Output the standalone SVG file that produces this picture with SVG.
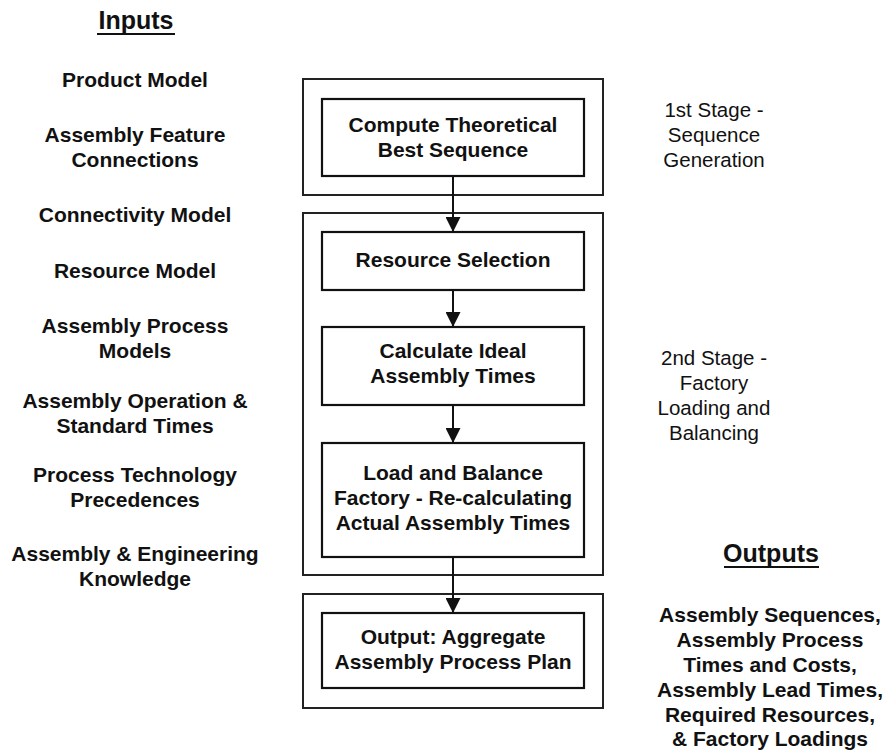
<svg xmlns="http://www.w3.org/2000/svg" width="883" height="751" viewBox="0 0 883 751">
<style>
  text { font-family: "Liberation Sans", Arial, sans-serif; fill: #111; text-anchor: middle; }
  .b { font-weight: bold; font-size: 21px; }
  .r { font-size: 20.5px; }
  .h { font-weight: bold; font-size: 25px; }
  .outer { fill: none; stroke: #222; stroke-width: 2; }
  .inner { fill: #fff; stroke: #111; stroke-width: 2.2; }
  .conn { stroke: #111; stroke-width: 2; fill: none; }
  .ul { stroke: #111; stroke-width: 2; }
</style>
<defs>
  <marker id="arr" markerUnits="userSpaceOnUse" markerWidth="15" markerHeight="15" refX="15" refY="7.5" orient="auto">
    <path d="M0,0 L15,7.5 L0,15 z" fill="#111"/>
  </marker>
</defs>
<rect width="883" height="751" fill="#fff"/>

<g id="inputs">
  <text class="h" x="136" y="29">Inputs</text>
  <line class="ul" x1="97" y1="34" x2="175" y2="34"/>
  <text class="b" x="135" y="87">Product Model</text>
  <text class="b" x="135" y="142">Assembly Feature</text>
  <text class="b" x="135" y="167">Connections</text>
  <text class="b" x="135" y="222">Connectivity Model</text>
  <text class="b" x="135" y="278">Resource Model</text>
  <text class="b" x="135" y="333">Assembly Process</text>
  <text class="b" x="135" y="358">Models</text>
  <text class="b" x="135" y="408">Assembly Operation &amp;</text>
  <text class="b" x="135" y="433">Standard Times</text>
  <text class="b" x="135" y="482">Process Technology</text>
  <text class="b" x="135" y="507">Precedences</text>
  <text class="b" x="135" y="561">Assembly &amp; Engineering</text>
  <text class="b" x="135" y="586">Knowledge</text>
</g>

<g id="stage1">
  <rect class="outer" x="303" y="79" width="300" height="116"/>
</g>
<g id="stage2">
  <rect class="outer" x="303" y="213" width="300" height="362"/>
</g>
<g id="stage3">
  <rect class="outer" x="303" y="594" width="300" height="114"/>
</g>

<g id="compute">
  <rect class="inner" x="322" y="99" width="262" height="77"/>
  <text class="b" x="453" y="132">Compute Theoretical</text>
  <text class="b" x="453" y="157">Best Sequence</text>
</g>
<g id="resource">
  <rect class="inner" x="322" y="232" width="262" height="58"/>
  <text class="b" x="453" y="267">Resource Selection</text>
</g>
<g id="calculate">
  <rect class="inner" x="322" y="327" width="262" height="78"/>
  <text class="b" x="453" y="358">Calculate Ideal</text>
  <text class="b" x="453" y="383">Assembly Times</text>
</g>
<g id="load">
  <rect class="inner" x="322" y="443" width="262" height="114"/>
  <text class="b" x="453" y="480">Load and Balance</text>
  <text class="b" x="453" y="505">Factory - Re-calculating</text>
  <text class="b" x="453" y="530">Actual Assembly Times</text>
</g>
<g id="output">
  <rect class="inner" x="322" y="613" width="262" height="75"/>
  <text class="b" x="453" y="644">Output: Aggregate</text>
  <text class="b" x="453" y="669">Assembly Process Plan</text>
</g>

<g id="connectors">
  <line class="conn" x1="453" y1="176" x2="453" y2="232" marker-end="url(#arr)"/>
  <line class="conn" x1="453" y1="290" x2="453" y2="327" marker-end="url(#arr)"/>
  <line class="conn" x1="453" y1="405" x2="453" y2="443" marker-end="url(#arr)"/>
  <line class="conn" x1="453" y1="557" x2="453" y2="613" marker-end="url(#arr)"/>
</g>

<g id="stage1-label">
  <text class="r" x="714" y="117">1st Stage -</text>
  <text class="r" x="714" y="142">Sequence</text>
  <text class="r" x="714" y="167">Generation</text>
</g>
<g id="stage2-label">
  <text class="r" x="714" y="365">2nd Stage -</text>
  <text class="r" x="714" y="390">Factory</text>
  <text class="r" x="714" y="415">Loading and</text>
  <text class="r" x="714" y="440">Balancing</text>
</g>

<g id="outputs">
  <text class="h" x="771" y="562">Outputs</text>
  <line class="ul" x1="724" y1="567" x2="819" y2="567"/>
  <text class="b" x="770" y="622">Assembly Sequences,</text>
  <text class="b" x="770" y="647">Assembly Process</text>
  <text class="b" x="770" y="672">Times and Costs,</text>
  <text class="b" x="770" y="697">Assembly Lead Times,</text>
  <text class="b" x="770" y="722">Required Resources,</text>
  <text class="b" x="770" y="746">&amp; Factory Loadings</text>
</g>
</svg>
